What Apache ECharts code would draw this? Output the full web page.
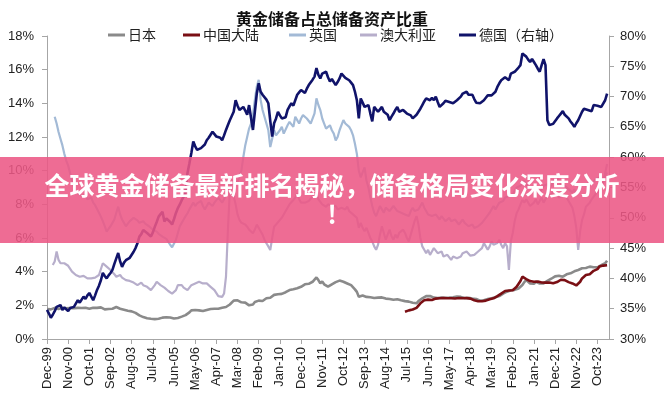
<!DOCTYPE html>
<html>
<head>
<meta charset="utf-8">
<script src="https://cdn.jsdelivr.net/npm/echarts@6/dist/echarts.min.js"></script>
<style>html,body{margin:0;padding:0;background:#fff;}#c{width:664px;height:400px;}</style>
</head>
<body>
<div id="c"></div>
<script>
// Monthly categories from Dec-99 (index 0) to Apr-24
var firstMonth = {year: 1999, month: 11};
var categoryCount = 293;
var monthNames = ['Jan','Feb','Mar','Apr','May','Jun','Jul','Aug','Sep','Oct','Nov','Dec'];
var categories = [];
for (var i = 0; i < categoryCount; i++) {
  var m = firstMonth.month + i;
  var y = firstMonth.year + Math.floor(m / 12);
  categories.push(monthNames[m % 12] + '-' + String(y % 100).padStart(2, '0'));
}

var seriesNames = ['日本', '中国大陆', '英国', '澳大利亚', '德国（右轴）'];
var leftTicks = {min: 0, max: 18, step: 2};
var rightTicks = {min: 30, max: 80, step: 5};

// Japan, % (starts Dec-99)
var japanStart = 0;
var japan = [
1.78,1.80,1.76,1.82,1.85,1.80,1.78,1.83,1.86,1.84,
1.82,1.80,1.84,1.86,1.83,1.80,1.85,1.88,1.84,1.82,
1.86,1.84,1.80,1.83,1.86,1.88,1.85,1.90,1.88,1.80,
1.76,1.72,1.78,1.82,1.80,1.85,1.90,1.88,1.80,1.76,
1.74,1.70,1.68,1.66,1.64,1.62,1.55,1.45,1.40,1.35,
1.30,1.27,1.23,1.22,1.20,1.19,1.18,1.17,1.20,1.24,
1.27,1.29,1.29,1.26,1.28,1.25,1.22,1.23,1.25,1.30,
1.33,1.38,1.42,1.43,1.58,1.70,1.76,1.72,1.68,1.70,
1.68,1.66,1.70,1.72,1.75,1.78,1.74,1.80,1.82,1.80,
1.84,1.86,1.82,1.90,1.96,2.05,2.15,2.28,2.22,2.30,
2.25,2.18,2.12,2.16,2.05,2.00,1.92,2.05,2.20,2.15,
2.28,2.32,2.26,2.35,2.42,2.38,2.45,2.52,2.62,2.71,
2.66,2.62,2.68,2.70,2.78,2.85,2.91,2.88,2.95,2.98,
3.01,2.98,3.10,3.18,3.25,3.31,3.28,3.35,3.40,3.38,
3.66,3.50,3.30,3.42,3.25,3.15,3.11,3.18,3.25,3.30,
3.38,3.42,3.47,3.44,3.40,3.35,3.30,3.28,3.20,3.11,
2.95,2.80,2.51,2.62,2.58,2.55,2.50,2.54,2.48,2.45,
2.44,2.42,2.46,2.50,2.47,2.45,2.40,2.43,2.38,2.35,
2.33,2.32,2.36,2.34,2.30,2.28,2.25,2.24,2.22,2.18,
2.15,2.13,2.12,2.25,2.35,2.42,2.50,2.55,2.52,2.55,
2.50,2.46,2.48,2.44,2.42,2.46,2.48,2.45,2.43,2.46,
2.45,2.48,2.50,2.52,2.48,2.50,2.46,2.44,2.48,2.45,
2.42,2.40,2.42,2.38,2.32,2.28,2.26,2.30,2.35,2.38,
2.40,2.42,2.45,2.48,2.45,2.55,2.62,2.70,2.76,2.81,
2.85,2.90,2.88,2.92,2.91,3.00,3.10,3.21,3.38,3.50,
3.40,3.30,3.21,3.28,3.40,3.35,3.30,3.32,3.30,3.38,
3.45,3.50,3.58,3.65,3.72,3.80,3.76,3.72,3.70,3.78,
3.84,3.88,3.90,3.95,4.02,4.08,4.10,4.15,4.20,4.26,
4.22,4.28,4.30,4.30,4.26,4.24,4.26,4.32,4.38,4.45,
4.50,4.65
];

// China mainland, % (starts Jun-15)
var chinaStart = 186;
var china = [
1.62,1.65,1.70,1.68,1.75,1.78,1.85,1.92,2.12,2.22,
2.30,2.38,2.34,2.35,2.32,2.36,2.40,2.37,2.42,2.40,
2.43,2.40,2.42,2.45,2.42,2.44,2.41,2.46,2.44,2.45,
2.42,2.40,2.43,2.38,2.40,2.35,2.30,2.26,2.24,2.22,
2.24,2.26,2.28,2.32,2.36,2.39,2.42,2.48,2.55,2.61,
2.70,2.78,2.85,2.91,2.88,2.86,2.90,3.00,3.10,3.21,
3.45,3.70,3.62,3.56,3.50,3.44,3.42,3.40,3.38,3.42,
3.31,3.36,3.40,3.35,3.40,3.36,3.32,3.31,3.35,3.38,
3.45,3.52,3.60,3.50,3.40,3.38,3.35,3.30,3.22,3.18,
3.15,3.40,3.60,3.70,3.80,3.78,3.85,3.90,4.05,4.10,
4.15,4.30,4.28,4.36,4.34,4.38
];

// UK, % (starts Apr-00)
var ukStart = 4;
var uk = [
13.2,12.8,12.3,11.9,11.5,11.0,10.6,10.3,9.85,9.4,
9.05,8.8,8.65,8.7,8.5,8.46,8.55,8.3,8.25,8.4,
8.1,7.95,7.86,7.5,7.27,7.0,6.7,6.38,6.55,6.7,
6.9,7.1,7.5,7.86,7.4,7.1,6.9,6.7,6.85,7.0,
7.1,7.2,7.27,7.05,6.9,6.95,7.0,6.85,6.75,6.7,
6.6,6.5,6.45,6.38,6.25,6.15,6.08,6.0,5.95,5.9,
5.6,5.45,5.39,5.9,6.3,6.7,6.9,7.1,7.3,7.47,
7.7,7.8,8.1,7.9,8.06,8.1,8.2,7.9,7.7,7.9,
8.1,8.0,7.9,8.1,8.2,8.4,8.3,8.1,8.3,8.6,
8.8,9.0,9.2,9.4,9.5,9.3,9.7,10.0,10.8,11.5,
12.0,12.5,12.8,13.3,14.2,15.0,15.4,14.2,13.6,13.2,
12.8,12.4,11.4,11.9,12.4,12.1,12.0,12.4,12.6,12.2,
12.3,12.7,12.9,13.0,12.6,13.2,13.0,12.8,13.1,13.3,
13.4,13.1,13.0,12.8,12.7,13.4,14.3,13.9,13.6,13.1,
12.8,12.5,12.6,12.7,12.4,12.2,11.8,12.0,12.4,12.7,
13.0,12.8,12.7,12.6,12.4,12.1,11.6,11.0,10.0,9.6,
9.5,10.2,9.4,9.0,8.4,7.9,7.5,7.3,7.6,7.9,
7.7,7.5,7.8,7.9,7.6,7.7,7.9,7.8,7.6,7.7,
7.5,7.6,7.4,7.5,7.3,7.6,7.8,7.6,7.5,7.7,
7.9,8.1,7.8,7.6,7.4,7.5,7.3,7.2,7.4,7.3,
7.1,7.3,7.2,7.0,7.1,7.2,7.0,6.9,7.1,7.0,
6.8,6.9,7.1,6.9,6.8,6.7,6.6,6.8,6.6,6.5,
6.7,6.8,6.9,7.0,7.2,7.3,7.5,7.6,7.9,7.7,
7.9,8.1,8.0,8.2,8.4,8.3,8.5,8.46,8.6,8.8,
9.0,8.9,9.1,9.25,9.4,9.2,9.0,9.1,8.9,8.8,
9.0,8.9,8.7,8.9,9.1,9.0,9.2,9.3,9.1,9.4,
9.5,9.6,9.4,9.2,9.3,9.1,9.0,8.9,8.8,8.7,
8.9,8.6,8.7,8.9,9.2,9.3,9.1,9.25,9.4,9.2,
9.3,9.5,9.4,9.6,9.65,9.5,9.7,9.9
];

// Australia, % (starts Mar-00)
var australiaStart = 3;
var australia = [
4.4,4.6,5.2,4.7,4.5,4.6,4.5,4.4,4.35,4.3,
4.0,3.9,3.8,3.75,3.7,3.8,3.75,3.65,3.6,3.5,
3.6,3.7,3.65,3.75,3.8,3.9,4.5,4.4,4.3,4.25,
4.1,4.0,3.85,3.7,3.75,3.8,3.65,3.55,3.5,3.4,
3.45,3.5,3.35,3.3,3.2,3.3,3.35,3.2,3.15,3.1,
3.0,2.9,3.05,3.2,3.4,3.3,3.2,3.1,3.05,3.0,
2.85,2.75,2.7,2.6,2.9,3.2,3.3,3.2,3.05,2.95,
2.9,3.05,3.2,3.25,3.3,3.35,3.4,3.35,3.3,3.25,
3.3,3.2,3.1,3.0,2.9,2.8,2.55,2.5,2.5,2.7,
3.7,6.5,8.85,8.6,8.46,8.0,7.4,7.07,6.9,7.0,
6.8,6.67,6.5,6.4,6.28,6.5,6.8,6.6,6.4,6.2,
5.9,5.69,5.5,5.29,6.0,6.67,6.8,6.9,7.07,7.2,
7.4,7.6,7.8,8.0,8.1,8.26,8.4,8.65,8.3,8.1,
8.0,8.1,8.06,8.2,8.3,8.46,8.4,8.7,8.3,8.2,
8.0,7.9,7.86,8.0,8.1,7.9,8.0,7.9,7.7,7.66,
7.8,7.9,7.7,7.86,7.6,7.5,7.4,7.3,7.2,6.6,
6.9,6.6,6.4,6.6,6.3,6.0,5.8,5.5,5.3,5.6,
6.2,6.7,6.3,5.9,6.2,6.5,6.1,5.9,6.2,6.0,
6.3,6.4,6.5,6.3,6.0,5.8,6.2,6.6,7.0,7.3,
6.8,6.0,5.5,5.3,5.1,5.3,5.0,5.2,5.4,5.3,
5.1,5.0,5.2,4.9,4.8,5.0,4.9,4.7,4.9,5.0,
4.8,4.75,4.9,5.1,5.0,5.2,5.1,4.95,4.9,5.0,
5.1,5.2,5.1,5.4,5.7,5.5,5.3,5.5,5.8,5.6,
5.5,5.7,5.9,5.6,5.4,5.7,5.5,4.1,5.8,6.3,
7.0,7.47,7.7,8.0,8.26,8.1,8.3,8.1,7.9,7.86,
8.1,8.3,8.0,8.2,8.4,8.1,8.3,8.5,8.4,8.6,
8.7,8.85,8.6,8.4,8.3,8.5,8.6,8.4,8.2,8.0,
7.8,7.3,6.6,5.3,6.4,7.06,7.4,7.86,7.9,8.1,
8.3,8.46,8.6,8.85,8.7,9.0,9.3,9.85,10.4
];

// Germany, % (right axis, starts Dec-99)
var germanyStart = 0;
var germany = [
34.8,34.2,33.5,34.0,34.6,35.3,35.0,35.6,34.8,35.2,
35.0,34.6,35.1,34.8,35.3,35.6,36.4,36.0,36.5,37.0,
36.6,37.2,37.6,37.0,36.4,37.2,38.1,38.8,39.7,40.9,
40.4,40.0,40.5,40.9,41.4,42.4,43.3,44.2,42.8,41.9,
42.6,43.0,42.7,43.4,43.9,44.4,45.0,45.8,46.9,47.3,
48.0,47.7,47.5,47.2,46.9,47.6,48.5,49.3,50.2,50.6,
51.0,49.4,49.9,49.6,49.3,48.9,49.8,50.8,51.6,52.2,
52.9,53.5,54.3,57.4,59.0,60.7,62.6,61.8,61.2,61.3,
61.5,61.7,62.1,62.8,63.2,63.7,64.2,63.8,63.4,63.6,
63.2,62.8,63.6,64.5,65.3,66.1,66.8,67.5,69.4,68.5,
67.8,68.0,68.3,67.7,67.0,68.6,66.5,64.5,67.5,70.5,
72.2,70.8,70.3,70.0,69.5,68.9,66.0,63.4,65.6,66.4,
67.5,66.9,66.4,66.1,66.6,67.8,68.4,68.9,68.5,68.3,
70.3,70.7,71.1,70.9,70.6,71.3,71.9,72.2,72.8,73.3,
74.7,73.6,73.0,73.8,74.0,74.1,73.2,72.5,72.9,72.7,
71.9,72.4,73.0,73.8,73.5,73.1,73.3,72.7,72.3,71.9,
70.8,69.4,66.4,69.7,69.0,68.3,68.0,68.6,67.2,65.9,
68.3,67.9,67.5,67.9,68.3,67.5,67.6,67.0,66.1,66.7,
67.2,67.8,68.3,67.5,67.6,67.8,67.5,67.2,67.5,66.9,
66.4,66.7,67.0,67.5,68.0,68.6,69.2,69.7,69.5,69.4,
69.8,69.4,70.0,69.1,68.3,68.6,68.9,69.3,69.2,69.1,
69.0,68.9,69.2,69.4,69.7,70.0,70.5,70.7,70.8,70.3,
70.0,70.3,69.6,69.0,68.9,68.9,69.2,69.4,69.8,70.2,
70.5,70.2,69.9,70.8,71.6,72.2,72.7,73.0,73.2,72.9,
72.7,73.8,73.9,74.1,74.4,74.8,75.2,77.1,76.9,76.6,
76.1,75.7,76.2,75.7,75.2,74.6,74.1,75.2,76.2,75.2,
66.1,65.3,65.6,65.5,65.8,66.4,66.8,67.2,67.6,67.0,
66.7,66.4,65.9,65.5,65.0,65.6,66.1,66.8,67.5,68.0,
67.9,67.8,67.7,67.6,68.6,68.7,68.5,68.6,68.3,68.2,
69.4,70.5
];

var bannerText = '全球黄金储备最新排名揭秘，储备格局变化深度分析';
var bannerText2 = '!';

function placed(start, values) {
  var out = [];
  for (var k = 0; k < start; k++) out.push(null);
  return out.concat(values);
}

var latin = '"Liberation Sans", Arial, "Noto Sans CJK SC", sans-serif';
var cjk = '"Noto Sans CJK SC", "Liberation Sans", sans-serif';
var colors = ['#8a8a8a', '#7a0f14', '#a3bad6', '#b7aecb', '#10136a'];
var legendLefts = [108, 183, 289, 360, 459];

var chart = echarts.init(document.getElementById('c'), null, {renderer: 'canvas'});
var seriesData = [
  placed(japanStart, japan),
  placed(chinaStart, china),
  placed(ukStart, uk),
  placed(australiaStart, australia),
  placed(germanyStart, germany)
];

var legends = seriesNames.map(function (n, i) {
  return {
    data: [{name: n, icon: 'rect'}], left: legendLefts[i], top: 28,
    itemWidth: 17, itemHeight: 3, itemGap: 4,
    itemStyle: {color: colors[i], borderWidth: 0},
    textStyle: {fontFamily: cjk, fontSize: 14, color: '#222', padding: [0, 0, 0, -2]},
    padding: 0
  };
});

var option = {
  animation: false,
  backgroundColor: '#ffffff',
  color: colors,
  title: {
    text: '黄金储备占总储备资产比重', left: 'center', top: 6,
    textStyle: {fontFamily: cjk, fontSize: 16, fontWeight: 'bold', color: '#111'}
  },
  legend: legends,
  grid: {left: 47, right: 55, top: 36, bottom: 61},
  xAxis: {
    type: 'category', data: categories, boundaryGap: false,
    axisLine: {lineStyle: {color: '#a6a6a6', width: 1}},
    axisTick: {interval: 10, length: 5, lineStyle: {color: '#a6a6a6'}},
    axisLabel: {interval: 10, rotate: 90, margin: 8, fontFamily: latin, fontSize: 13, color: '#222'},
    splitLine: {show: false}
  },
  yAxis: [
    {
      type: 'value', min: leftTicks.min, max: leftTicks.max, interval: leftTicks.step,
      axisLine: {show: true, lineStyle: {color: '#a6a6a6'}},
      axisTick: {show: true, length: 5, lineStyle: {color: '#a6a6a6'}},
      axisLabel: {formatter: '{value}%', margin: 13, fontFamily: latin, fontSize: 13, color: '#222'},
      splitLine: {show: false}
    },
    {
      type: 'value', min: rightTicks.min, max: rightTicks.max, interval: rightTicks.step, position: 'right',
      axisLine: {show: true, lineStyle: {color: '#a6a6a6'}},
      axisTick: {show: true, length: 5, lineStyle: {color: '#a6a6a6'}},
      axisLabel: {formatter: '{value}%', margin: 11, fontFamily: latin, fontSize: 13, color: '#222'},
      splitLine: {show: false}
    }
  ],
  series: seriesNames.map(function (n, i) {
    return {
      name: n, type: 'line', yAxisIndex: i === 4 ? 1 : 0,
      data: seriesData[i], showSymbol: false, symbol: 'none',
      lineStyle: {width: (i === 2 || i === 3) ? 2.2 : 2.6, color: colors[i]},
      itemStyle: {color: colors[i]},
      z: 2 + i
    };
  }),
  graphic: [
    {type: 'rect', z: 100, shape: {x: 0, y: 157, width: 664, height: 86},
     style: {fill: 'rgba(236,88,133,0.88)'}},
    {type: 'text', z: 101, x: 332, y: 185,
     style: {text: bannerText, fill: '#ffffff', font: 'bold 25px "Noto Sans CJK SC", sans-serif',
             textAlign: 'center', textVerticalAlign: 'middle',
             shadowBlur: 2, shadowColor: 'rgba(80,0,30,0.35)'}},
    {type: 'text', z: 101, x: 332, y: 214,
     style: {text: bannerText2, fill: '#ffffff', font: 'bold 25px "Noto Sans CJK SC", sans-serif',
             textAlign: 'center', textVerticalAlign: 'middle',
             shadowBlur: 2, shadowColor: 'rgba(80,0,30,0.35)'}}
  ]
};
chart.setOption(option);
</script>
</body>
</html>
